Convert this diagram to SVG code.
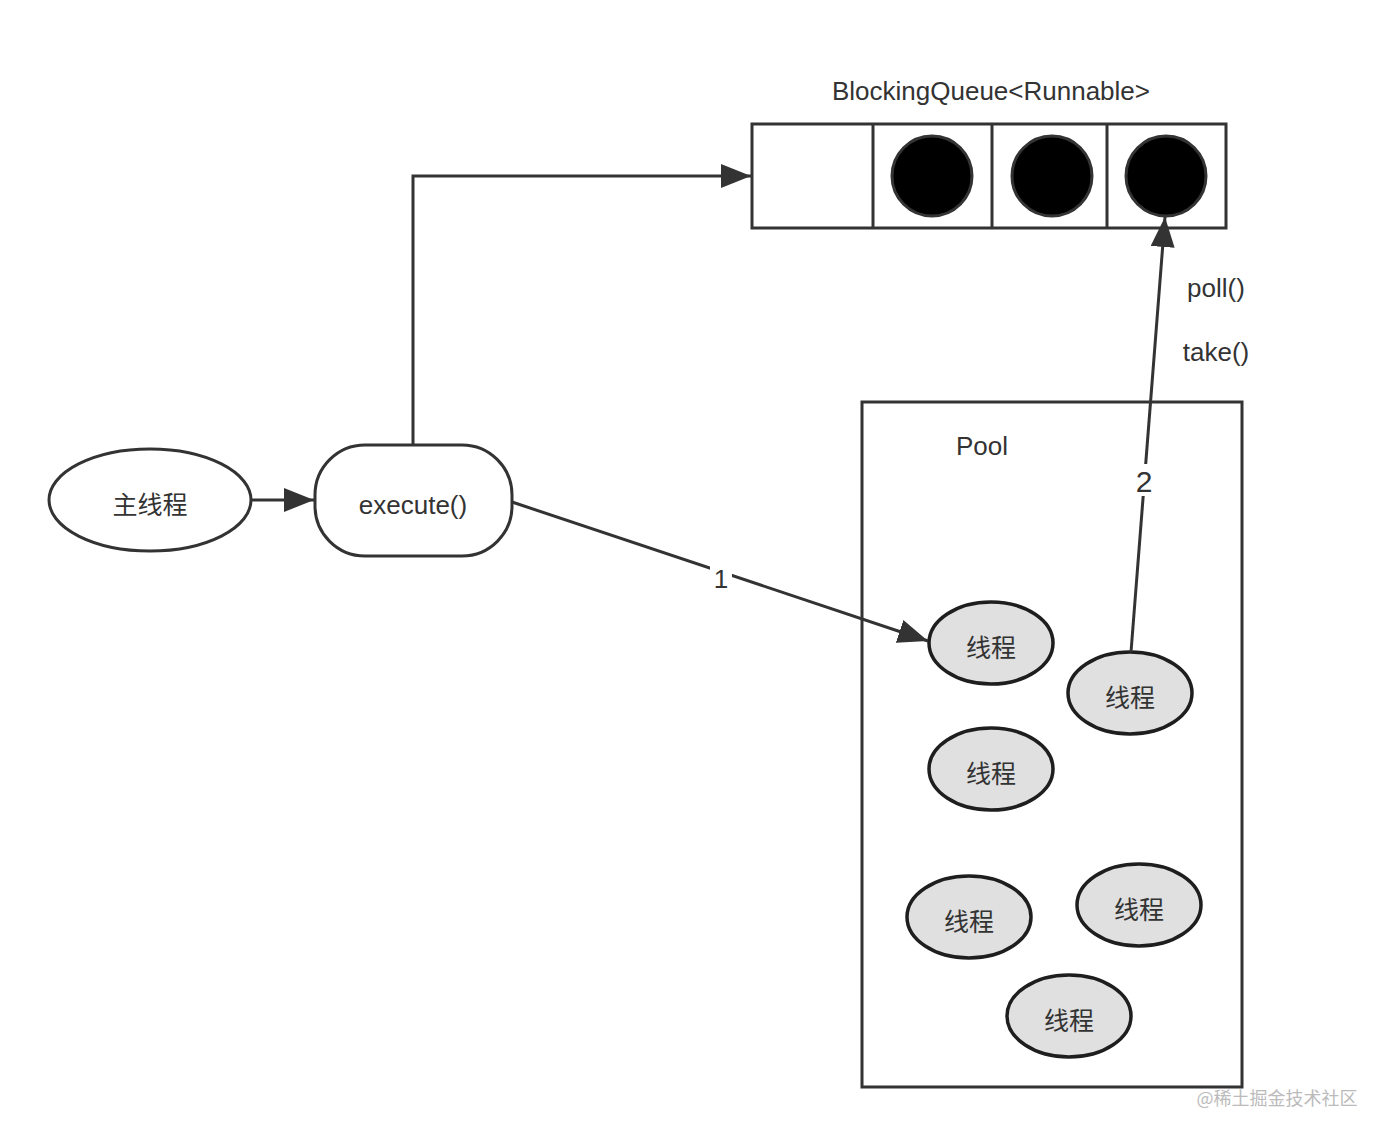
<svg xmlns="http://www.w3.org/2000/svg" width="1386" height="1138" viewBox="0 0 1386 1138">
<style>
.ln{stroke:#333;stroke-width:3;fill:none}
.box{stroke:#333;stroke-width:3;fill:#fff}
.thr{stroke:#1e1e1e;stroke-width:3.5;fill:#e0e0e0}
.dot{stroke:#333;stroke-width:3;fill:#000}
.t{font-family:"Liberation Sans","Noto Sans CJK SC",sans-serif;fill:#333;text-anchor:middle}
.lbl{font-size:26px}
.cj{font-family:"Noto Sans CJK SC",sans-serif;font-size:25px;fill:#333;text-anchor:middle}
</style>
<defs>
<marker id="ah" markerWidth="10" markerHeight="8" refX="10" refY="4" orient="auto" markerUnits="strokeWidth" viewBox="0 0 10 8">
<path d="M0,0 L10,4 L0,8 Z" fill="#333"/>
</marker>
</defs>
<rect width="1386" height="1138" fill="#fff"/>
<g id="queue">
<text class="t lbl" x="991" y="100">BlockingQueue&lt;Runnable&gt;</text>
<rect class="box" x="752" y="124" width="474" height="104"/>
<line class="ln" x1="873" y1="124" x2="873" y2="228"/>
<line class="ln" x1="992" y1="124" x2="992" y2="228"/>
<line class="ln" x1="1107" y1="124" x2="1107" y2="228"/>
<circle class="dot" cx="932" cy="176" r="40"/>
<circle class="dot" cx="1052" cy="176" r="40"/>
<circle class="dot" cx="1166" cy="176" r="40"/>
</g>
<g id="pool">
<rect class="box" x="862" y="402" width="380" height="685"/>
<text class="t lbl" x="982" y="455">Pool</text>
</g>
<g id="main">
<ellipse class="box" cx="150" cy="500" rx="101" ry="51"/>
<text class="cj" x="150" y="514">主线程</text>
</g>
<g id="execute">
<rect class="box" x="315" y="445" width="197" height="111" rx="50" ry="50"/>
<text class="t lbl" x="413" y="514">execute()</text>
</g>
<g id="t1"><ellipse class="thr" cx="991" cy="643" rx="62" ry="41"/><text class="cj" x="991" y="657">线程</text></g>
<g id="t2"><ellipse class="thr" cx="1130" cy="693" rx="62" ry="41"/><text class="cj" x="1130" y="707">线程</text></g>
<g id="t3"><ellipse class="thr" cx="991" cy="769" rx="62" ry="41"/><text class="cj" x="991" y="783">线程</text></g>
<g id="t4"><ellipse class="thr" cx="969" cy="917" rx="62" ry="41"/><text class="cj" x="969" y="931">线程</text></g>
<g id="t5"><ellipse class="thr" cx="1139" cy="905" rx="62" ry="41"/><text class="cj" x="1139" y="919">线程</text></g>
<g id="t6"><ellipse class="thr" cx="1069" cy="1016" rx="62" ry="41"/><text class="cj" x="1069" y="1030">线程</text></g>
<g id="connectors">
<line class="ln" x1="252" y1="500" x2="314" y2="500" marker-end="url(#ah)"/>
<polyline class="ln" points="413,445 413,176 751,176" marker-end="url(#ah)"/>
<line class="ln" x1="512" y1="502" x2="928" y2="641" marker-end="url(#ah)"/>
<rect x="710" y="563" width="22" height="30" fill="#fff"/>
<text class="t lbl" x="721" y="588">1</text>
<line class="ln" x1="1131" y1="652" x2="1165" y2="217" marker-end="url(#ah)"/>
<rect x="1132" y="464" width="24" height="32" fill="#fff"/>
<text class="t" font-size="30" x="1144" y="492">2</text>
<text class="t lbl" x="1216" y="297">poll()</text>
<text class="t lbl" x="1216" y="361">take()</text>
</g>
<text x="1277" y="1105" font-family="Noto Sans CJK SC,sans-serif" font-size="18" fill="#bbb" text-anchor="middle">@稀土掘金技术社区</text>
</svg>
